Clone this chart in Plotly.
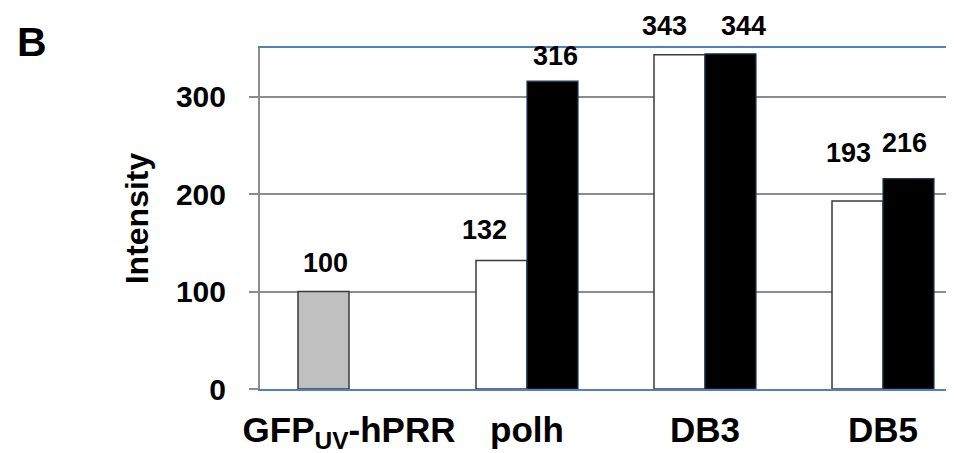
import plotly.graph_objects as go

categories = ["GFP<sub>UV</sub>-hPRR", "polh", "DB3", "DB5"]
series_a = [100, 132, 343, 193]     # first bar of each group (control is grey)
series_b = [None, 316, 344, 216]    # second bar of each group
colors_a = ["#c0c0c0", "#ffffff", "#ffffff", "#ffffff"]
y_ticks = [0, 100, 200, 300]

FONT = "Liberation Sans, Arial, sans-serif"
W, H = 954, 453
L, R, T, B = 252, 0, 40, 72
PW, PH = W - L - R, H - T - B

fig = go.Figure()
fig.add_trace(go.Bar(
    x=categories, y=series_a, marker=dict(color=colors_a, line=dict(color="#3a3a3a", width=1.5)),
    showlegend=False, hoverinfo="y"))
fig.add_trace(go.Bar(
    x=categories, y=series_b, marker=dict(color="#000000", line=dict(color="#1f3a5a", width=1.2)),
    showlegend=False, hoverinfo="y"))

# manual label placement (pixel shifts from category centre, px above bar top)
shift_a = [(-24, 12), (-43, 13), (-41, 12), (-35, 31)]
shift_b = [None, (28, 8), (38, 11), (21, 19)]
for i, c in enumerate(categories):
    fig.add_annotation(x=c, y=series_a[i], xref="x", yref="y", text=f"<b>{series_a[i]}</b>",
                       showarrow=False, xshift=shift_a[i][0], yshift=shift_a[i][1],
                       yanchor="bottom", font=dict(family=FONT, size=27, color="#000"))
    if series_b[i] is not None:
        fig.add_annotation(x=c, y=series_b[i], xref="x", yref="y", text=f"<b>{series_b[i]}</b>",
                           showarrow=False, xshift=shift_b[i][0], yshift=shift_b[i][1],
                           yanchor="bottom", font=dict(family=FONT, size=27, color="#000"))

fig.add_annotation(x=(7 - L) / PW, y=(H - B - 9) / PH, xref="paper", yref="paper",
                   text="<b>B</b>", showarrow=False, xanchor="left", yanchor="top",
                   font=dict(family=FONT, size=41, color="#000"))

fig.update_layout(
    width=W, height=H, margin=dict(l=L, r=R, t=T, b=B),
    paper_bgcolor="white", plot_bgcolor="white",
    barmode="group", bargap=0.427, bargroupgap=0,
    font=dict(family=FONT, color="#000"),
)
fig.update_xaxes(
    range=[-0.5, -0.5 + PW / 178.0], showline=True, linecolor="#4f81bd", linewidth=2, mirror=True,
    ticks="", showgrid=False, tickfont=dict(family=FONT, size=35, weight="bold", color="#000"),
    ticklabelstandoff=9,
)
fig.update_yaxes(
    range=[0, 350], tickvals=y_ticks, showline=True, linecolor="#8c8c8c", linewidth=2,
    ticks="outside", ticklen=9, tickwidth=2, tickcolor="#8c8c8c",
    showgrid=True, gridcolor="#8c8c8c", gridwidth=1.5, zeroline=False,
    tickfont=dict(family=FONT, size=30, weight="bold", color="#000"), ticklabelstandoff=17,
    title=dict(text="Intensity", font=dict(family=FONT, size=32, weight="bold", color="#000"), standoff=18),
)
fig.write_html("out.html")
